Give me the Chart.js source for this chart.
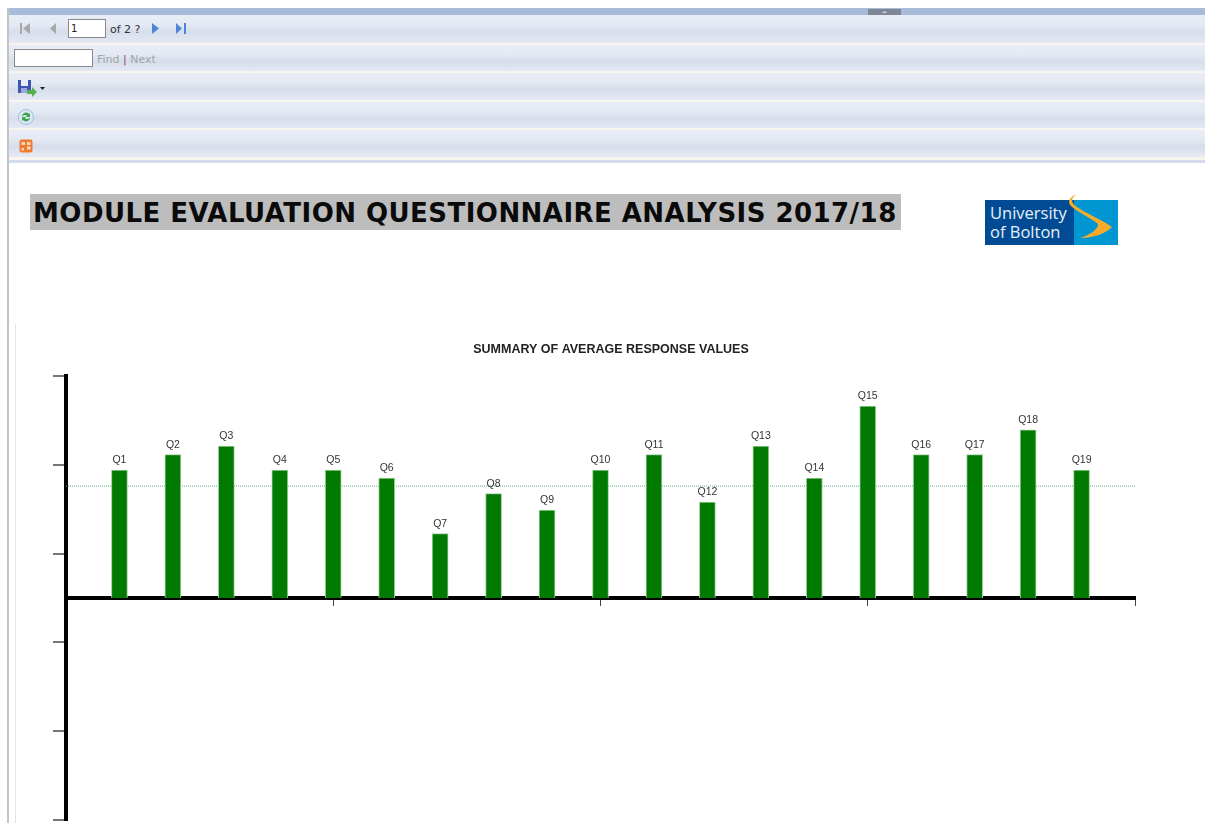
<!DOCTYPE html>
<html><head><meta charset="utf-8">
<script src="https://cdn.jsdelivr.net/npm/chart.js@4"></script>
<style>
html,body{margin:0;padding:0;background:#fff;width:1205px;height:823px;overflow:hidden;font-family:"Liberation Sans",Arial,sans-serif}
.abs{position:absolute}
.band{position:absolute;left:9px;right:0;background:linear-gradient(#e9edf6 0%,#e4e9f3 35%,#d6deeb 60%,#dfe5f0 85%,#e6eaf4 100%)}
.sep{position:absolute;left:9px;right:0;height:2px;background:#f8f5ee}
.small{font:11px "DejaVu Sans",sans-serif;color:#333;line-height:13px}
.grey{color:#a3a3a3;font:11px "DejaVu Sans",sans-serif}
input{box-sizing:border-box;margin:0;padding:0 0 0 2px;border:1px solid #8a8a8a;background:#fff;font:10px "DejaVu Sans",sans-serif;color:#222}
</style></head>
<body>
<div class="abs" style="left:7px;top:8px;width:2px;height:815px;background:#c4c4c4"></div>
<div class="abs" style="left:9px;top:8px;right:0;height:7px;background:#a9bbdb"></div>
<svg class="abs" style="left:868px;top:9px" width="33" height="6"><rect width="33" height="6" fill="#7d8796"/><path d="M14 4h5l-2.500-2z" fill="#d5dae2"/></svg>
<div class="band" style="top:15px;height:28px"></div><div class="sep" style="top:43px"></div>
<div class="band" style="top:45px;height:27px"></div><div class="sep" style="top:71px"></div>
<div class="band" style="top:73px;height:27px"></div><div class="sep" style="top:100px"></div>
<div class="band" style="top:102px;height:27px"></div><div class="sep" style="top:128px"></div>
<div class="band" style="top:130px;height:27px"></div><div class="sep" style="top:157px;height:3px"></div>
<div class="abs" style="left:9px;top:160px;right:0;height:3px;background:#d3dcec"></div>

<svg class="abs" style="left:18px;top:20px" width="180" height="18">
<g fill="#a8a8a8"><rect x="2" y="3" width="2" height="11"/><path d="M12 3v11l-7-5.500z"/><path d="M38 3v11l-6-5.500z"/></g>
<g fill="#4f86d8"><path d="M134 3v11l7-5.500z"/><path d="M158 3v11l6-5.500z"/><rect x="166" y="3" width="2" height="11"/></g>
</svg>
<input class="abs" style="left:68px;top:19px;width:38px;height:19px" value="1">
<div class="abs small" style="left:110px;top:23px">of 2 ?</div>
<input class="abs" style="left:14px;top:49px;width:79px;height:18px">
<div class="abs grey" style="left:97px;top:53px">Find <span style="color:#8a4a5a">|</span> Next</div>
<svg class="abs" style="left:17px;top:78px" width="30" height="20">
<rect x="1" y="2" width="13" height="13" fill="#3f55b5"/><rect x="4" y="2" width="7" height="6" fill="#e8ecf8"/><rect x="4" y="10" width="6" height="5" fill="#9aa6d8"/>
<path d="M10 12h5v-3l5 5-5 5v-3h-5z" fill="#56b04f"/><path d="M23 9h5l-2.500 3z" fill="#222"/></svg>
<svg class="abs" style="left:17px;top:108px" width="18" height="18">
<circle cx="9" cy="9" r="7.500" fill="#dbe9f7" stroke="#9cc0e0"/><path d="M5 8a4 4 0 0 1 7-2l1-1v4h-4l1-1a2.500 2.500 0 0 0-4 0z" fill="#3fa34a"/><path d="M13 10a4 4 0 0 1-7 2l-1 1v-4h4l-1 1a2.500 2.500 0 0 0 4 0z" fill="#3fa34a"/></svg>
<svg class="abs" style="left:19px;top:139px" width="15" height="15">
<rect x="0.500" y="0.500" width="13" height="13" rx="2" fill="#ee7a2f"/><g fill="#fbd9b8"><rect x="2.500" y="3" width="3.500" height="3"/><rect x="8" y="3" width="3.500" height="3"/><rect x="8" y="7.500" width="3.500" height="3"/><rect x="2.500" y="9" width="2.500" height="2.500"/></g></svg>

<div class="abs" style="left:30px;top:194px;width:871px;height:36px;background:#bdbdbd;color:#0a0a0a;font:bold 26px/39px 'DejaVu Sans',sans-serif;white-space:nowrap;padding-left:3px;box-sizing:border-box;letter-spacing:0.46px">MODULE EVALUATION QUESTIONNAIRE ANALYSIS 2017/18</div>

<svg class="abs" style="left:985px;top:193px" width="134" height="53">
<rect x="0" y="7" width="89" height="45" fill="#004b93"/><rect x="89" y="7" width="44" height="45" fill="#0096d2"/>
<path d="M92 1C84 4 82 9 86 13C92 19 108 26 113 31C113 37 104 42 95 45C108 45 120 41 127 34C118 27 100 20 92 14C85 9 86 5 92 1Z" fill="#f6ab2b"/>
<text x="5" y="26" font-family="'Open Sans',sans-serif" font-size="16.500" fill="#e8f0f8">University</text>
<text x="5" y="45" font-family="'Open Sans',sans-serif" font-size="16.500" fill="#e8f0f8">of Bolton</text>
</svg>

<div class="abs" style="left:15px;top:324px;width:1px;height:499px;background:#e4e4e4"></div>
<canvas id="c" class="abs" style="left:17px;top:324px"></canvas>
<script>
const categories=["Q1","Q2","Q3","Q4","Q5","Q6","Q7","Q8","Q9","Q10","Q11","Q12","Q13","Q14","Q15","Q16","Q17","Q18","Q19"];
const positions=[1,2,3,4,5,6,7,8,9,10,11,12,13,14,15,16,17,18,19];
const values=[2.88,3.23,3.42,2.88,2.88,2.70,1.45,2.35,1.98,2.88,3.23,2.16,3.42,2.70,4.32,3.23,3.23,3.79,2.88];
const meanX=[0,20];
const meanY=[2.52,2.52];
const chartTitle="SUMMARY OF AVERAGE RESPONSE VALUES";

const barLabels={id:'barLabels',afterDatasetsDraw(chart){
  const ctx=chart.ctx,meta=chart.getDatasetMeta(1);
  ctx.save();ctx.font='10.5px "Liberation Sans",Arial,sans-serif';ctx.fillStyle='#333';ctx.textAlign='center';ctx.textBaseline='alphabetic';
  meta.data.forEach((b,i)=>ctx.fillText(categories[i],b.x,b.y-7));
  ctx.restore();
}};
const cv=document.getElementById('c');
cv.width=1188;cv.height=498;cv.style.width='1188px';cv.style.height='498px';
new Chart(cv,{
 data:{datasets:[
  {type:'line',label:'Mean',data:meanX.map((x,i)=>({x,y:meanY[i]})),xAxisID:'x',yAxisID:'y',borderColor:'#5fae7f',borderWidth:1,borderDash:[1,1],pointRadius:0,order:2},
  {type:'bar',label:'Average',data:positions.map((x,i)=>({x,y:values[i]})),xAxisID:'x',yAxisID:'y',backgroundColor:'#007a00',borderColor:'#9ccb9c',borderWidth:{left:1,right:1,top:1,bottom:0},barThickness:16,order:1}
 ]},
 options:{
  responsive:false,animation:false,
  layout:{padding:{left:0,right:0,top:0,bottom:2}},
  plugins:{legend:{display:false},tooltip:{enabled:false},
   title:{display:true,text:chartTitle,color:'#222',font:{family:'"Liberation Sans",Arial,sans-serif',size:12.5,weight:'bold'},padding:{top:18,bottom:19}}},
  scales:{
   x:{type:'linear',min:0,max:20,position:{y:0},offset:false,
      ticks:{stepSize:5,display:false},
      grid:{offset:false,drawOnChartArea:false,drawTicks:true,tickLength:6,color:'#444',lineWidth:1},
      border:{color:'#000',width:4}},
   y:{type:'linear',min:-5,max:5,position:'left',
      ticks:{stepSize:2,display:false},
      afterFit(s){s.width=49;},
      grid:{drawOnChartArea:false,drawTicks:true,tickLength:13,color:'#777',lineWidth:2},
      border:{color:'#000',width:4}},
   spacer:{type:'linear',position:'right',
      ticks:{display:false},
      afterFit(s){s.width=70;},
      grid:{display:false},
      border:{display:false}}
  }
 },
 plugins:[barLabels]
});
</script>
</body></html>
